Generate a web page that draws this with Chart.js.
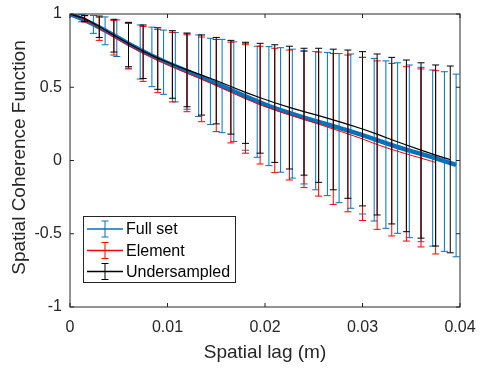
<!DOCTYPE html>
<html>
<head>
<meta charset="utf-8">
<script src="https://cdn.jsdelivr.net/npm/chart.js@4/dist/chart.umd.min.js"></script>
<style>
  html, body { margin: 0; padding: 0; background: #fff; }
  #wrap { width: 482px; height: 374px; }
</style>
</head>
<body>
<div id="wrap"><canvas id="c" width="482" height="374"></canvas></div>
<script>
// Spatial lag (m) and coherence statistics for each aperture configuration
const fullLag = [0, 0.0012, 0.0024, 0.0036, 0.0048, 0.006, 0.0072, 0.0084, 0.0096, 0.0108, 0.012,
  0.0132, 0.0144, 0.0156, 0.0168, 0.018, 0.0192, 0.0204, 0.0216, 0.0228, 0.024, 0.0252, 0.0264,
  0.0276, 0.0288, 0.03, 0.0312, 0.0324, 0.0336, 0.0348, 0.036, 0.0372, 0.0384, 0.0396];
const fullMean = [1, 0.968, 0.93, 0.888, 0.843, 0.797, 0.754, 0.715, 0.678, 0.643, 0.61,
  0.577, 0.543, 0.508, 0.473, 0.438, 0.404, 0.372, 0.344, 0.318, 0.293, 0.269, 0.246,
  0.223, 0.199, 0.173, 0.146, 0.118, 0.092, 0.068, 0.045, 0.021, -0.004, -0.03];
const fullHigh = [1, 0.995, 0.99, 0.98, 0.96, 0.94, 0.925, 0.91, 0.89, 0.873, 0.865,
  0.857, 0.834, 0.827, 0.81, 0.80, 0.78, 0.777, 0.77, 0.76, 0.75, 0.743, 0.738,
  0.73, 0.727, 0.704, 0.697, 0.68, 0.667, 0.652, 0.636, 0.618, 0.606, 0.59];
const fullLow = [1, 0.947, 0.868, 0.79, 0.71, 0.63, 0.556, 0.504, 0.452, 0.40, 0.35,
  0.30, 0.245, 0.19, 0.13, 0.07, 0.022, -0.035, -0.08, -0.12, -0.16, -0.2, -0.24,
  -0.288, -0.326, -0.365, -0.413, -0.463, -0.497, -0.527, -0.554, -0.584, -0.62, -0.657];

const elemLag = [0, 0.0015, 0.003, 0.0045, 0.006, 0.0075, 0.009, 0.0105, 0.012, 0.0135, 0.015,
  0.0165, 0.018, 0.0195, 0.021, 0.0225, 0.024, 0.0255, 0.027, 0.0285, 0.03, 0.0315, 0.033,
  0.0345, 0.036, 0.0375];
const elemMean = [1, 0.965, 0.902, 0.842, 0.785, 0.732, 0.683, 0.638, 0.596, 0.554, 0.511,
  0.466, 0.421, 0.38, 0.344, 0.311, 0.28, 0.248, 0.215, 0.182, 0.147, 0.109, 0.075,
  0.045, 0.016, -0.013];
const elemHigh = [1, 0.988, 0.978, 0.955, 0.935, 0.915, 0.895, 0.875, 0.858, 0.843, 0.826,
  0.808, 0.79, 0.78, 0.766, 0.754, 0.745, 0.74, 0.73, 0.72, 0.704, 0.68, 0.663,
  0.64, 0.625, 0.613];
const elemLow = [1, 0.945, 0.82, 0.72, 0.625, 0.54, 0.463, 0.40, 0.333, 0.265, 0.197,
  0.12, 0.05, -0.024, -0.083, -0.133, -0.185, -0.243, -0.3, -0.35, -0.41, -0.47, -0.515,
  -0.55, -0.59, -0.638];

const underLag = [0, 0.0015, 0.003, 0.0045, 0.006, 0.0075, 0.009, 0.0105, 0.012, 0.0135, 0.015,
  0.0165, 0.018, 0.0195, 0.021, 0.0225, 0.024, 0.0255, 0.027, 0.0285, 0.03, 0.0315, 0.033,
  0.0345, 0.036, 0.0375, 0.039];
const underMean = [1, 0.97, 0.915, 0.855, 0.798, 0.746, 0.699, 0.657, 0.619, 0.583, 0.546,
  0.505, 0.465, 0.428, 0.394, 0.363, 0.334, 0.306, 0.277, 0.247, 0.215, 0.18, 0.142,
  0.106, 0.071, 0.037, 0.006];
const underHigh = [1, 0.99, 0.986, 0.964, 0.943, 0.925, 0.906, 0.886, 0.87, 0.857, 0.84,
  0.82, 0.807, 0.80, 0.79, 0.78, 0.766, 0.766, 0.76, 0.754, 0.743, 0.727, 0.704,
  0.686, 0.667, 0.652, 0.645];
const underLow = [1, 0.95, 0.84, 0.74, 0.64, 0.56, 0.486, 0.425, 0.367, 0.31, 0.25,
  0.18, 0.117, 0.05, -0.013, -0.058, -0.1, -0.149, -0.2, -0.258, -0.31, -0.372, -0.433,
  -0.486, -0.53, -0.584, -0.63];

const seriesNames = ['Full set', 'Element', 'Undersampled'];
const xTicks = [0, 0.01, 0.02, 0.03, 0.04];
const xTickLabels = ['0', '0.01', '0.02', '0.03', '0.04'];
const yTicks = [-1, -0.5, 0, 0.5, 1];
const yTickLabels = ['-1', '-0.5', '0', '0.5', '1'];
const xTitle = 'Spatial lag (m)';
const yTitle = 'Spatial Coherence Function';

const FONT = '"Liberation Sans", Arial, Helvetica, sans-serif';
const AXIS = '#262626';
const AREA = { left: 70, top: 14, right: 460, bottom: 307 };
const points = (xs, ys) => xs.map((x, i) => ({ x, y: ys[i] }));

// Error bars drawn right after each dataset's own line, then axes box, titles and legend
const errorBox = {
  id: 'errorBox',
  afterDatasetDraw(chart, args) {
    const ds = chart.data.datasets[args.index];
    const ctx = chart.ctx, xs = chart.scales.x, ys = chart.scales.y;
    const cap = 3.5;
    ctx.save();
    ctx.strokeStyle = ds.borderColor;
    ctx.lineWidth = 1;
    ds.lags.forEach((lag, i) => {
      const lo = ds.errLow[i], hi = ds.errHigh[i];
      if (lo === hi) return;
      const px = xs.getPixelForValue(lag);
      const pl = ys.getPixelForValue(lo), ph = ys.getPixelForValue(hi);
      ctx.beginPath();
      ctx.moveTo(px, ph); ctx.lineTo(px, pl);
      ctx.moveTo(px - cap, ph); ctx.lineTo(px + cap, ph);
      ctx.moveTo(px - cap, pl); ctx.lineTo(px + cap, pl);
      ctx.stroke();
    });
    ctx.restore();
  },
  afterDraw(chart) {
    const ctx = chart.ctx, a = chart.chartArea, xs = chart.scales.x, ys = chart.scales.y;
    ctx.save();
    // axes box with inward ticks on all four sides
    ctx.strokeStyle = AXIS;
    ctx.lineWidth = 1;
    ctx.strokeRect(a.left, a.top, a.right - a.left, a.bottom - a.top);
    const tl = 4;
    ctx.beginPath();
    xTicks.forEach(v => {
      const p = xs.getPixelForValue(v);
      ctx.moveTo(p, a.bottom); ctx.lineTo(p, a.bottom - tl);
      ctx.moveTo(p, a.top); ctx.lineTo(p, a.top + tl);
    });
    yTicks.forEach(v => {
      const p = ys.getPixelForValue(v);
      ctx.moveTo(a.left, p); ctx.lineTo(a.left + tl, p);
      ctx.moveTo(a.right, p); ctx.lineTo(a.right - tl, p);
    });
    ctx.stroke();

    // axis titles
    ctx.fillStyle = AXIS;
    ctx.font = '19px ' + FONT;
    ctx.textAlign = 'center';
    ctx.textBaseline = 'middle';
    ctx.fillText(xTitle, (a.left + a.right) / 2, 353);
    ctx.save();
    ctx.translate(20, (a.top + a.bottom) / 2 - 3);
    ctx.rotate(-Math.PI / 2);
    ctx.fillText(yTitle, 0, 0);
    ctx.restore();

    // legend
    const bx = 83.5, by = 216.5, bw = 152, bh = 66;
    ctx.fillStyle = '#fff';
    ctx.fillRect(bx, by, bw, bh);
    ctx.strokeStyle = AXIS;
    ctx.strokeRect(bx, by, bw, bh);
    const rows = [229, 250.5, 271.5];
    chart.data.datasets.forEach((ds, i) => {
      const y = rows[i];
      ctx.strokeStyle = ds.borderColor;
      ctx.lineWidth = 1.5;
      ctx.beginPath();
      ctx.moveTo(87, y); ctx.lineTo(123, y);
      ctx.stroke();
      ctx.lineWidth = 1;
      ctx.beginPath();
      ctx.moveTo(105, y - 8); ctx.lineTo(105, y + 8);
      ctx.moveTo(101.5, y - 8); ctx.lineTo(108.5, y - 8);
      ctx.moveTo(101.5, y + 8); ctx.lineTo(108.5, y + 8);
      ctx.stroke();
      ctx.fillStyle = '#000';
      ctx.font = '16px ' + FONT;
      ctx.textAlign = 'left';
      ctx.textBaseline = 'middle';
      ctx.fillText(ds.label, 126, y + 1);
    });
    ctx.restore();
  }
};

const tickFont = { family: FONT, size: 16 };

new Chart(document.getElementById('c'), {
  type: 'line',
  data: {
    datasets: [
      { label: seriesNames[0], data: points(fullLag, fullMean), lags: fullLag, errLow: fullLow, errHigh: fullHigh,
        borderColor: '#0072BD', borderWidth: 4.5, pointRadius: 0, tension: 0, order: 3 },
      { label: seriesNames[1], data: points(elemLag, elemMean), lags: elemLag, errLow: elemLow, errHigh: elemHigh,
        borderColor: '#FF0000', borderWidth: 1, pointRadius: 0, tension: 0, order: 2 },
      { label: seriesNames[2], data: points(underLag, underMean), lags: underLag, errLow: underLow, errHigh: underHigh,
        borderColor: '#000000', borderWidth: 1.2, pointRadius: 0, tension: 0, order: 1 }
    ]
  },
  options: {
    responsive: false,
    devicePixelRatio: 1,
    animation: false,
    layout: { autoPadding: false, padding: { top: AREA.top, right: 482 - AREA.right, left: 0, bottom: 0 } },
    plugins: { legend: { display: false }, tooltip: { enabled: false } },
    scales: {
      x: {
        type: 'linear', min: 0, max: 0.04,
        grid: { display: false, drawTicks: true, tickLength: 11 }, border: { display: false },
        afterBuildTicks: s => { s.ticks = xTicks.map(v => ({ value: v })); },
        afterFit: s => { s.height = 374 - AREA.bottom; s.paddingLeft = 0; s.paddingRight = 0; },
        ticks: { font: tickFont, color: AXIS, padding: 0, maxRotation: 0,
                 callback: (v, i) => xTickLabels[i] }
      },
      y: {
        type: 'linear', min: -1, max: 1,
        grid: { display: false, drawTicks: true, tickLength: 8 }, border: { display: false },
        afterBuildTicks: s => { s.ticks = yTicks.map(v => ({ value: v })); },
        afterFit: s => { s.width = AREA.left; s.paddingTop = 0; s.paddingBottom = 0; },
        ticks: { font: tickFont, color: AXIS, padding: 0,
                 callback: (v, i) => yTickLabels[i] }
      }
    }
  },
  plugins: [errorBox]
});
</script>
</body>
</html>
